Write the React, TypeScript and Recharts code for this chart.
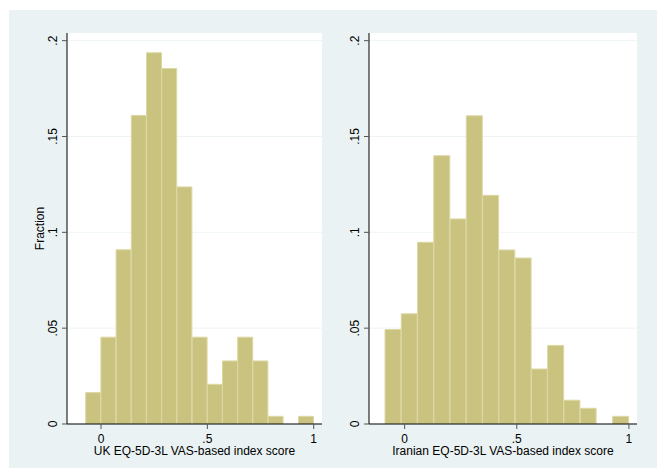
import React from 'react';
import { BarChart, Bar, XAxis, YAxis, CartesianGrid } from 'recharts';

// bin midpoints and fractions
const ukBins = [-0.0364, 0.0351, 0.1066, 0.178, 0.2495, 0.321, 0.3924, 0.4639, 0.5354, 0.6068, 0.6783, 0.7498, 0.8212, 0.8927, 0.9642];
const ukFraction = [0.0164, 0.0453, 0.0909, 0.161, 0.1937, 0.1855, 0.1237, 0.0453, 0.0207, 0.0329, 0.0453, 0.0329, 0.004, 0, 0.004];

const iranBins = [-0.0514, 0.0211, 0.0936, 0.1661, 0.2386, 0.3111, 0.3837, 0.4562, 0.5287, 0.6012, 0.6737, 0.7462, 0.8187, 0.8912, 0.9637];
const iranFraction = [0.0493, 0.0575, 0.0948, 0.14, 0.107, 0.1608, 0.1193, 0.0908, 0.0866, 0.0287, 0.041, 0.0124, 0.0082, 0, 0.004];

const xTicks = [0, 0.5, 1];
const xTickLabels = ['0', '.5', '1'];
const yTicks = [0, 0.05, 0.1, 0.15, 0.2];
const yTickLabels = ['0', '.05', '.1', '.15', '.2'];

const FONT = '"Liberation Sans", Arial, sans-serif';
const BAR_FILL = '#cac380';
const BAR_EDGE = '#dcd8a4';
const BG = '#eaf2f3';

const toRows = (bins: number[], vals: number[]) => bins.map((x, i) => ({ x, y: vals[i] }));

const XTick = (props: any) => {
  const i = xTicks.indexOf(props.payload.value);
  return (
    <text x={props.x} y={props.y + 11.5} textAnchor="middle" fontSize={12} fill="#000" fontFamily={FONT}>
      {xTickLabels[i]}
    </text>
  );
};

const YTick = (props: any) => {
  const i = yTicks.indexOf(props.payload.value);
  return (
    <text
      transform={`translate(${props.x - 3},${props.y}) rotate(-90)`}
      textAnchor="middle"
      fontSize={12}
      fill="#000"
      fontFamily={FONT}
    >
      {yTickLabels[i]}
    </text>
  );
};

interface PanelProps {
  bins: number[];
  values: number[];
  title: string;
  domain: [number, number];
  left: number;
  width: number;
  yAxisWidth: number;
  marginRight: number;
  yLabel?: string;
}

const Panel = ({ bins, values, title, domain, left, width, yAxisWidth, marginRight, yLabel }: PanelProps) => {
  const data = toRows(bins, values);
  return (
    <div style={{ position: 'absolute', left, top: 10 }}>
      <BarChart
        width={width}
        height={457}
        data={data}
        margin={{ top: 23, right: marginRight, left: 0, bottom: 0 }}
        barCategoryGap={0}
        barGap={0}
      >
        <CartesianGrid vertical={false} fill="#fff" fillOpacity={1} stroke="#eef4f4" horizontalValues={yTicks} />
        <XAxis
          dataKey="x"
          type="number"
          domain={domain}
          ticks={xTicks}
          allowDataOverflow
          height={43}
          tickSize={5}
          axisLine={{ stroke: '#000' }}
          tickLine={{ stroke: '#555' }}
          tick={<XTick />}
          label={(p: any) => (
            <text
              x={p.viewBox.x + p.viewBox.width / 2}
              y={p.viewBox.y + 31}
              textAnchor="middle"
              fontSize={12}
              fontFamily={FONT}
              fill="#000"
            >
              {title}
            </text>
          )}
        />
        <YAxis
          type="number"
          domain={[0, 0.204]}
          ticks={yTicks}
          allowDataOverflow
          width={yAxisWidth}
          tickSize={5}
          axisLine={{ stroke: '#000' }}
          tickLine={{ stroke: '#555' }}
          tick={<YTick />}
          label={
            yLabel
              ? (p: any) => (
                  <text
                    transform={`translate(${p.viewBox.x + 35},${p.viewBox.y + p.viewBox.height / 2}) rotate(-90)`}
                    textAnchor="middle"
                    fontSize={12}
                    fontFamily={FONT}
                    fill="#000"
                  >
                    {yLabel}
                  </text>
                )
              : undefined
          }
        />
        <Bar dataKey="y" fill={BAR_FILL} stroke={BAR_EDGE} strokeWidth={1} isAnimationActive={false} />
      </BarChart>
    </div>
  );
};

export default function App() {
  return (
    <div style={{ position: 'absolute', left: 0, top: 0, width: 657, height: 468, background: '#fff', fontFamily: FONT }}>
      <div style={{ position: 'absolute', left: 9, top: 10, width: 648, height: 458, background: BG }} />
      <Panel
        bins={ukBins}
        values={ukFraction}
        title="UK EQ-5D-3L VAS-based index score"
        domain={[-0.16, 1.039]}
        left={9}
        width={320}
        yAxisWidth={58}
        marginRight={7}
        yLabel="Fraction"
      />
      <Panel
        bins={iranBins}
        values={iranFraction}
        title="Iranian EQ-5D-3L VAS-based index score"
        domain={[-0.159, 1.036]}
        left={329}
        width={328}
        yAxisWidth={40}
        marginRight={20}
      />
    </div>
  );
}
